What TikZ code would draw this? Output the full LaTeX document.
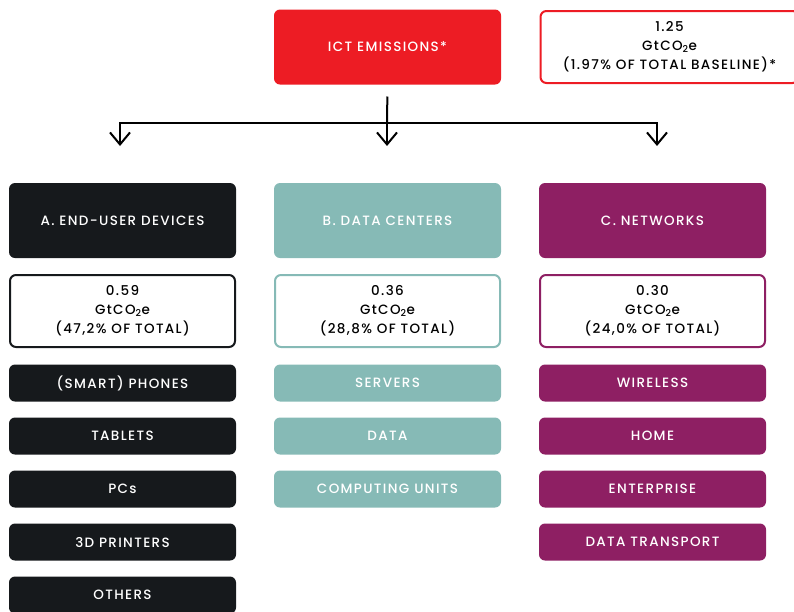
\documentclass[tikz,border=0pt]{standalone}
\usepackage{fontspec}
\setmainfont{Poppins}[BoldFont={Poppins Medium}]
\usetikzlibrary{arrows.meta,positioning}
\definecolor{ictred}{HTML}{ED1C24}
\definecolor{devblack}{HTML}{16191C}
\definecolor{dcteal}{HTML}{86BAB6}
\definecolor{netpurple}{HTML}{8E1F63}
\begin{document}
\begin{tikzpicture}[x=1pt,y=1pt,>={Straight Barb[length=12pt,width=20pt]},line width=2pt,node distance=53pt,on grid,
	box/.style   ={rounded corners=6pt,minimum width=227pt,inner sep=0pt,align=center,text=white,
		font=\fontsize{13.5}{19}\selectfont\bfseries\addfontfeatures{LetterSpace=10}},
	headbox/.style={box,minimum height=75pt},
	valbox/.style ={box,minimum width=225pt,minimum height=72pt,fill=white,draw,line width=2pt,text=black},
	itembox/.style={box,minimum height=37pt}]
	\useasboundingbox (0,0) rectangle (794,-611);
	\node[headbox,fill=devblack]  (A) at (122.5,-220.5)    {A. END-USER DEVICES};
	\node[headbox,fill=dcteal]    (B) [right=265pt of A]   {B. DATA CENTERS};
	\node[headbox,fill=netpurple] (C) [right=265pt of B]   {C. NETWORKS};
	\node[headbox,fill=ictred]    (ict) [above=173.5pt of B] {ICT EMISSIONS*};
	\node[valbox,draw=ictred,minimum width=258pt] (total) [right=282pt of ict]
		{1.25\\GtCO\textsubscript{2}e\\(1.97\% OF TOTAL BASELINE)*};
	% values
	\node[valbox,draw=devblack]  (valA) [below=90.5pt of A] {0.59\\GtCO\textsubscript{2}e\\(47,2\% OF TOTAL)};
	\node[valbox,draw=dcteal]    (valB) [below=90.5pt of B] {0.36\\GtCO\textsubscript{2}e\\(28,8\% OF TOTAL)};
	\node[valbox,draw=netpurple] (valC) [below=90.5pt of C] {0.30\\GtCO\textsubscript{2}e\\(24,0\% OF TOTAL)};
	% end-user devices
	\node[itembox,fill=devblack] (A1) [below=72pt of valA] {(SMART) PHONES};
	\node[itembox,fill=devblack] (A2) [below=of A1]        {TABLETS};
	\node[itembox,fill=devblack] (A3) [below=of A2]        {PCs};
	\node[itembox,fill=devblack] (A4) [below=of A3]        {3D PRINTERS};
	\node[itembox,fill=devblack] (A5) [below=of A4]        {OTHERS};
	% data centers
	\node[itembox,fill=dcteal] (B1) [below=72pt of valB] {SERVERS};
	\node[itembox,fill=dcteal] (B2) [below=of B1]        {DATA};
	\node[itembox,fill=dcteal] (B3) [below=of B2]        {COMPUTING UNITS};
	% networks
	\node[itembox,fill=netpurple] (C1) [below=72pt of valC] {WIRELESS};
	\node[itembox,fill=netpurple] (C2) [below=of C1]        {HOME};
	\node[itembox,fill=netpurple] (C3) [below=of C2]        {ENTERPRISE};
	\node[itembox,fill=netpurple] (C4) [below=of C3]        {DATA TRANSPORT};
	% arrows
	\coordinate (split) at (387,-123);
	\coordinate (tipA)  at (120,-146);
	\coordinate (tipB)  at (387,-146);
	\coordinate (tipC)  at (657,-146);
	\draw[shorten <=11pt] (ict.south) -- (split);
	\draw[->] (split) -| (tipA);
	\draw[->] (split) -- (tipB);
	\draw[->] (split) -| (tipC);
\end{tikzpicture}
\end{document}
